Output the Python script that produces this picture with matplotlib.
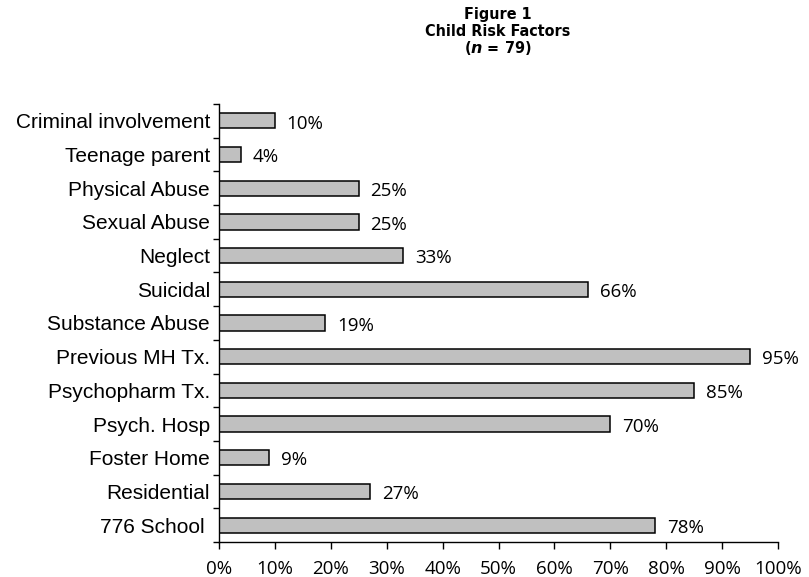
import matplotlib
matplotlib.use("Agg")
import matplotlib.pyplot as plt
from matplotlib.ticker import PercentFormatter

# categories listed top to bottom as in the figure
factors = ["Criminal involvement", "Teenage parent", "Physical Abuse", "Sexual Abuse",
           "Neglect", "Suicidal", "Substance Abuse", "Previous MH Tx.", "Psychopharm Tx.",
           "Psych. Hosp", "Foster Home", "Residential", "776 School "]
pct = [10, 4, 25, 25, 33, 66, 19, 95, 85, 70, 9, 27, 78]
xticks = [0, 10, 20, 30, 40, 50, 60, 70, 80, 90, 100]

plt.rcParams['font.family'] = ['Open Sans', 'DejaVu Sans']
plt.rcParams['mathtext.fontset'] = 'custom'
plt.rcParams['mathtext.it'] = 'DejaVu Sans:italic:bold'

fig = plt.figure(figsize=(8.09, 5.77), dpi=100)
ax = fig.add_axes([219/809, 35/577, 559/809, 438/577])

ypos = list(range(len(factors)))[::-1]
ax.barh(ypos, pct, height=0.45, color='#c0c0c0', edgecolor='black', linewidth=1.1)

for y, v in zip(ypos, pct):
    ax.text(v + 2.1, y - 0.08, f"{v}%", va='center', ha='left', fontsize=13.5)

ax.set_xlim(0, 100)
ax.set_ylim(-0.5, len(factors) - 0.5)
ax.set_xticks(xticks)
ax.xaxis.set_major_formatter(PercentFormatter(decimals=0))
ax.set_yticks(ypos)
ax.set_yticklabels(factors, fontsize=15, family=['Liberation Sans', 'DejaVu Sans'])
ax.set_yticks([i - 0.5 for i in range(len(factors) + 1)], minor=True)
ax.tick_params(axis='y', which='major', length=0, pad=6.5)
ax.tick_params(axis='y', which='minor', length=4, direction='out', width=1)
ax.tick_params(axis='x', length=5, direction='out', width=1, labelsize=13.5, pad=8)

for s in ['top', 'right']:
    ax.spines[s].set_visible(False)
ax.spines['left'].set_linewidth(1)
ax.spines['bottom'].set_linewidth(1)

title_kw = dict(ha='center', va='center', fontsize=11.5, fontweight='bold',
                family='DejaVu Sans', fontstretch='condensed')
fig.text(498/809, 1 - 14/577, "Figure 1", **title_kw)
fig.text(498/809, 1 - 31/577, "Child Risk Factors", **title_kw)
fig.text(498/809, 1 - 48/577, "($n$ = 79)", **title_kw)

fig.savefig("out.png", dpi=100)
